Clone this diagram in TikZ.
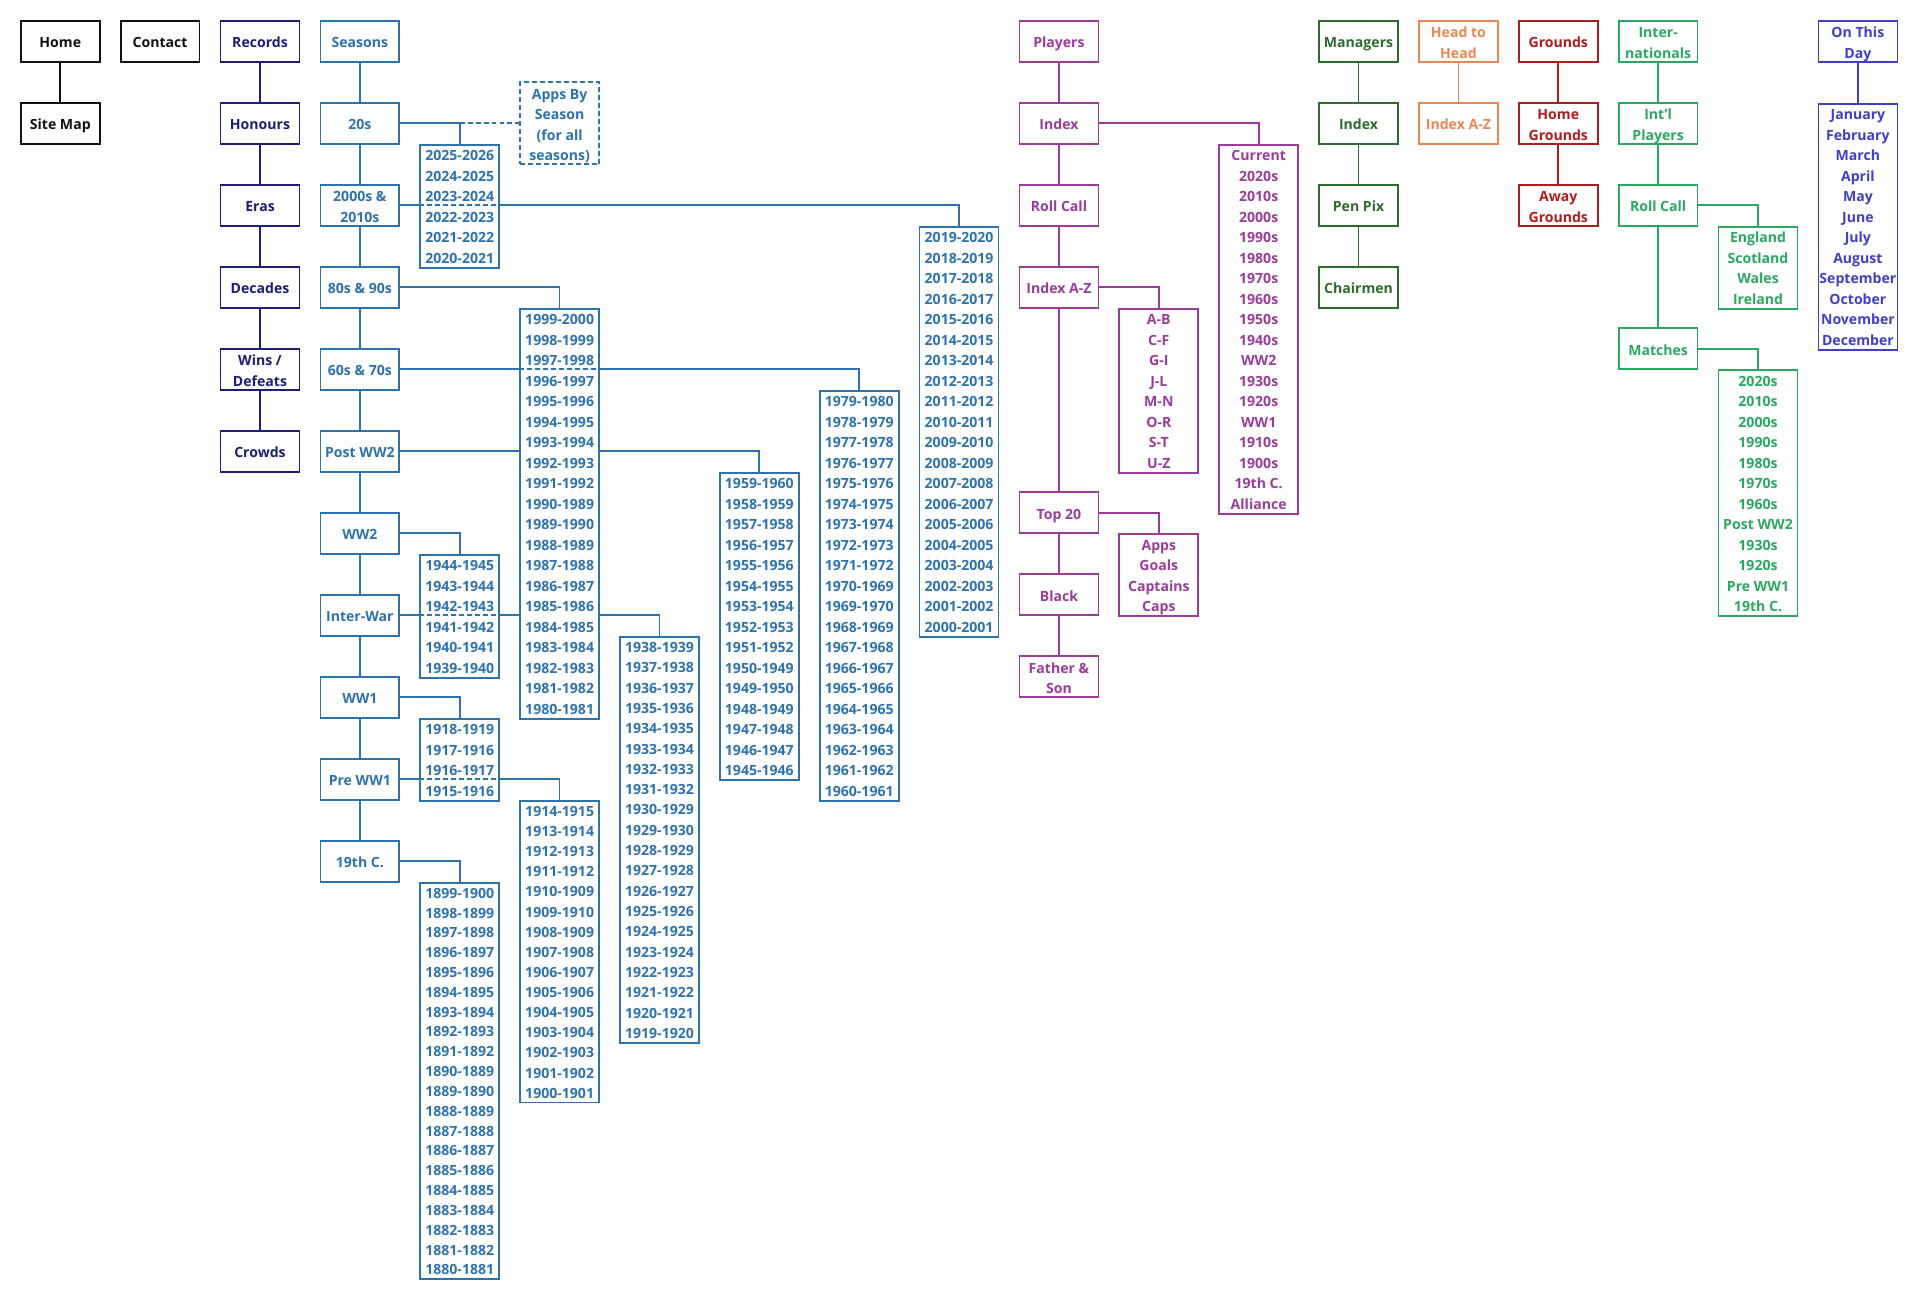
\documentclass[tikz,border=0pt]{standalone}
\usepackage{fontspec}
\setmainfont{Open Sans}
\usetikzlibrary{backgrounds}
\definecolor{cblack}{HTML}{111111}
\definecolor{cnavy}{HTML}{201C78}
\definecolor{cblue}{HTML}{2E72AE}
\definecolor{cpurple}{HTML}{9B3C9B}
\definecolor{cdgreen}{HTML}{2E6B2E}
\definecolor{corange}{HTML}{EB8752}
\definecolor{cred}{HTML}{B01C1C}
\definecolor{cgreen}{HTML}{2BA860}
\definecolor{cviolet}{HTML}{3F3FC8}
\newcommand\mystrut{\rule[-3.075pt]{0pt}{16.75pt}}
\newcommand\fs{\fontsize{11.5}{16.75}\selectfont\bfseries}
\newcommand\cx[1]{(49.25+81.6*(#1))}
\newcommand\ry[1]{(17+16.75*(#1))}
\tikzset{
  mbox/.style={draw=#1, text=#1, line width=1.4pt, fill=white, minimum width=64.5pt,
    minimum height=33.5pt, inner sep=0pt, align=center, font=\fs, execute at begin node=\mystrut},
  lbox/.style={draw=#1, line width=1.4pt, fill=white, minimum width=64.5pt, inner sep=0pt, anchor=north},
  ltxt/.style={text=#1, inner sep=0pt, font=\fs, execute at begin node=\mystrut},
  conn/.style={draw=#1, line width=1.4pt},
  xdash/.style={draw=#1, line width=1.4pt, dash pattern=on 4pt off 2.5pt},
}
\newcommand\mb[5]{\node[mbox=#2] (#1) at ({\cx{#3}},{\ry{#4+1}}) {#5};}
% two-line box: box node plus one text node per line
\newcommand\mbb[6]{%
  \node[mbox=#2] (#1) at ({\cx{#3}},{\ry{#4+1}}) {};
  \node[ltxt=#2] (#1-1) at ({\cx{#3}},{\ry{#4+0.5}}) {#5};
  \node[ltxt=#2] (#1-2) at ({\cx{#3}},{\ry{#4+1.5}}) {#6};}
\newcommand\ml[7]{%
  \node[lbox=#2, minimum height={#5*#6}] (#1) at ({\cx{#3}},{\ry{#4}}) {};
  \foreach \itm [count=\i] in {#7} {\node[ltxt=#2] (#1-\i) at ({\cx{#3}}, {\ry{#4}+(\i-0.5)*#6}) {\itm};}%
}
\begin{document}
\begin{tikzpicture}[x=1pt,y=-1pt]
\useasboundingbox (0,0) rectangle (1568,1062);
% ---- main boxes
\mb{home}{cblack}{0}{0}{Home}
\mb{sitemap}{cblack}{0}{4}{Site Map}
\mb{contact}{cblack}{1}{0}{Contact}
\mb{records}{cnavy}{2}{0}{Records}
\mb{honours}{cnavy}{2}{4}{Honours}
\mb{eras}{cnavy}{2}{8}{Eras}
\mb{decades}{cnavy}{2}{12}{Decades}
\mbb{wins}{cnavy}{2}{16}{Wins /}{Defeats}
\mb{crowds}{cnavy}{2}{20}{Crowds}
\mb{seasons}{cblue}{3}{0}{Seasons}
\mb{s20}{cblue}{3}{4}{20s}
\mbb{s2000}{cblue}{3}{8}{2000s \&}{2010s}
\mb{s80}{cblue}{3}{12}{80s \& 90s}
\mb{s60}{cblue}{3}{16}{60s \& 70s}
\mb{spost}{cblue}{3}{20}{Post WW2}
\mb{sww2}{cblue}{3}{24}{WW2}
\mb{sinter}{cblue}{3}{28}{Inter-War}
\mb{sww1}{cblue}{3}{32}{WW1}
\mb{spre}{cblue}{3}{36}{Pre WW1}
\mb{s19}{cblue}{3}{40}{19th C.}
\node[mbox=cblue, dash pattern=on 4pt off 2.5pt, minimum height=67pt] (apps) at ({\cx{5}},{\ry{5}}) {};
\node[ltxt=cblue] (apps-1) at ({\cx{5}},{\ry{3.5}}) {Apps By};
\node[ltxt=cblue] (apps-2) at ({\cx{5}},{\ry{4.5}}) {Season};
\node[ltxt=cblue] (apps-3) at ({\cx{5}},{\ry{5.5}}) {(for all};
\node[ltxt=cblue] (apps-4) at ({\cx{5}},{\ry{6.5}}) {seasons)};
\mb{players}{cpurple}{10}{0}{Players}
\mb{pindex}{cpurple}{10}{4}{Index}
\mb{proll}{cpurple}{10}{8}{Roll Call}
\mb{paz}{cpurple}{10}{12}{Index A-Z}
\mb{ptop}{cpurple}{10}{23}{Top 20}
\mb{pblack}{cpurple}{10}{27}{Black}
\mbb{pfather}{cpurple}{10}{31}{Father \&}{Son}
\mb{managers}{cdgreen}{13}{0}{Managers}
\mb{mindex}{cdgreen}{13}{4}{Index}
\mb{mpen}{cdgreen}{13}{8}{Pen Pix}
\mb{mchair}{cdgreen}{13}{12}{Chairmen}
\mbb{h2h}{corange}{14}{0}{Head to}{Head}
\mb{haz}{corange}{14}{4}{Index A-Z}
\mb{grounds}{cred}{15}{0}{Grounds}
\mbb{ghome}{cred}{15}{4}{Home}{Grounds}
\mbb{gaway}{cred}{15}{8}{Away}{Grounds}
\mbb{intl}{cgreen}{16}{0}{Inter-}{nationals}
\mbb{iplayers}{cgreen}{16}{4}{Int'l}{Players}
\mb{iroll}{cgreen}{16}{8}{Roll Call}
\mb{imatch}{cgreen}{16}{15}{Matches}
\mbb{otd}{cviolet}{18}{0}{On This}{Day}
% ---- lists
\ml{l20}{cblue}{4}{6}{6}{16.75}{2025-2026,2024-2025,2023-2024,2022-2023,2021-2022,2020-2021}
\ml{l2000}{cblue}{9}{10}{20}{16.75}{2019-2020,2018-2019,2017-2018,2016-2017,2015-2016,2014-2015,2013-2014,2012-2013,2011-2012,2010-2011,2009-2010,2008-2009,2007-2008,2006-2007,2005-2006,2004-2005,2003-2004,2002-2003,2001-2002,2000-2001}
\ml{l80}{cblue}{5}{14}{20}{16.75}{1999-2000,1998-1999,1997-1998,1996-1997,1995-1996,1994-1995,1993-1994,1992-1993,1991-1992,1990-1989,1989-1990,1988-1989,1987-1988,1986-1987,1985-1986,1984-1985,1983-1984,1982-1983,1981-1982,1980-1981}
\ml{l60}{cblue}{8}{18}{20}{16.75}{1979-1980,1978-1979,1977-1978,1976-1977,1975-1976,1974-1975,1973-1974,1972-1973,1971-1972,1970-1969,1969-1970,1968-1969,1967-1968,1966-1967,1965-1966,1964-1965,1963-1964,1962-1963,1961-1962,1960-1961}
\ml{lpost}{cblue}{7}{22}{15}{16.75}{1959-1960,1958-1959,1957-1958,1956-1957,1955-1956,1954-1955,1953-1954,1952-1953,1951-1952,1950-1949,1949-1950,1948-1949,1947-1948,1946-1947,1945-1946}
\ml{lww2}{cblue}{4}{26}{6}{16.75}{1944-1945,1943-1944,1942-1943,1941-1942,1940-1941,1939-1940}
\ml{linter}{cblue}{6}{30}{20}{16.6}{1938-1939,1937-1938,1936-1937,1935-1936,1934-1935,1933-1934,1932-1933,1931-1932,1930-1929,1929-1930,1928-1929,1927-1928,1926-1927,1925-1926,1924-1925,1923-1924,1922-1923,1921-1922,1920-1921,1919-1920}
\ml{lww1}{cblue}{4}{34}{4}{16.75}{1918-1919,1917-1916,1916-1917,1915-1916}
\ml{lpre}{cblue}{5}{38}{15}{16.45}{1914-1915,1913-1914,1912-1913,1911-1912,1910-1909,1909-1910,1908-1909,1907-1908,1906-1907,1905-1906,1904-1905,1903-1904,1902-1903,1901-1902,1900-1901}
\ml{l19}{cblue}{4}{42}{20}{16.2}{1899-1900,1898-1899,1897-1898,1896-1897,1895-1896,1894-1895,1893-1894,1892-1893,1891-1892,1890-1889,1889-1890,1888-1889,1887-1888,1886-1887,1885-1886,1884-1885,1883-1884,1882-1883,1881-1882,1880-1881}
\ml{lcur}{cpurple}{12}{6}{18}{16.75}{Current,2020s,2010s,2000s,1990s,1980s,1970s,1960s,1950s,1940s,WW2,1930s,1920s,WW1,1910s,1900s,19th C.,Alliance}
\ml{laz}{cpurple}{11}{14}{8}{16.75}{A-B,C-F,G-I,J-L,M-N,O-R,S-T,U-Z}
\ml{ltop}{cpurple}{11}{25}{4}{16.75}{Apps,Goals,Captains,Caps}
\ml{lnat}{cgreen}{17}{10}{4}{16.75}{England,Scotland,Wales,Ireland}
\ml{lmatch}{cgreen}{17}{17}{12}{16.75}{2020s,2010s,2000s,1990s,1980s,1970s,1960s,Post WW2,1930s,1920s,Pre WW1,19th C.}
\ml{lotd}{cviolet}{18}{4}{12}{16.75}{January,February,March,April,May,June,July,August,September,October,November,December}
% ---- connectors
\begin{pgfonlayer}{background}
\fill[white] (0,0) rectangle (1568,1062);
\draw[conn=cblack] (home) -- (sitemap);
\draw[conn=cnavy] (records) -- (honours) -- (eras) -- (decades) -- (wins) -- (crowds);
\draw[conn=cblue] (seasons) -- (s20) -- (s2000) -- (s80) -- (s60) -- (spost) -- (sww2) -- (sinter) -- (sww1) -- (spre) -- (s19);
\draw[conn=cblue] (s20.east) -| (l20.north);
\draw[conn=cblue] (s2000.east) -| (l2000.north);
\draw[conn=cblue] (s80.east) -| (l80.north);
\draw[conn=cblue] (s60.east) -| (l60.north);
\draw[conn=cblue] (spost.east) -| (lpost.north);
\draw[conn=cblue] (sww2.east) -| (lww2.north);
\draw[conn=cblue] (sinter.east) -| (linter.north);
\draw[conn=cblue] (sww1.east) -| (lww1.north);
\draw[conn=cblue] (spre.east) -| (lpre.north);
\draw[conn=cblue] (s19.east) -| (l19.north);
\draw[conn=cpurple] (players) -- (pindex) -- (proll) -- (paz) -- (ptop) -- (pblack) -- (pfather);
\draw[conn=cpurple] (pindex.east) -| (lcur.north);
\draw[conn=cpurple] (paz.east) -| (laz.north);
\draw[conn=cpurple] (ptop.east) -| (ltop.north);
\draw[conn=cdgreen] (managers) -- (mindex) -- (mpen) -- (mchair);
\draw[conn=corange] (h2h) -- (haz);
\draw[conn=cred] (grounds) -- (ghome) -- (gaway);
\draw[conn=cgreen] (intl) -- (iplayers) -- (iroll) -- (imatch);
\draw[conn=cgreen] (iroll.east) -| (lnat.north);
\draw[conn=cgreen] (imatch.east) -| (lmatch.north);
\draw[conn=cviolet] (otd) -- (lotd);
\end{pgfonlayer}
% ---- dashed crossings
\draw[xdash=cblue] (l20.north |- s20.east) -- (apps.west);
\draw[xdash=cblue] (l20.west |- s2000.east) -- (l20.east |- s2000.east);
\draw[xdash=cblue] (l80.west |- s60.east) -- (l80.east |- s60.east);
\draw[xdash=cblue] (lww2.west |- sinter.east) -- (lww2.east |- sinter.east);
\draw[xdash=cblue] (lww1.west |- spre.east) -- (lww1.east |- spre.east);
\end{tikzpicture}
\end{document}
